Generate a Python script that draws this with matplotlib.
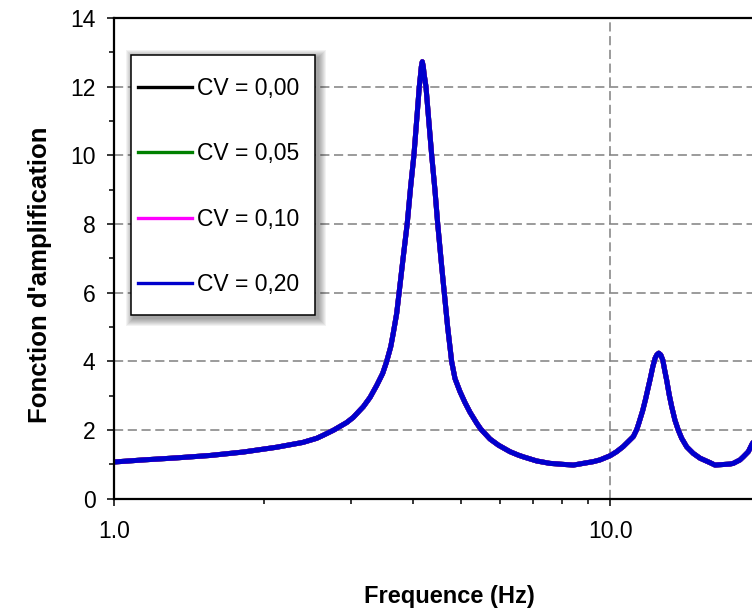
import matplotlib
matplotlib.use("Agg")
import matplotlib.pyplot as plt
import matplotlib.transforms as mtransforms
from matplotlib.lines import Line2D
from matplotlib.patches import Rectangle
from matplotlib.ticker import FixedLocator, FuncFormatter, LogLocator, MultipleLocator, NullFormatter

plt.rcParams['font.family'] = ['Liberation Sans', 'DejaVu Sans']

# values (all four CV curves coincide at this scale)
freq_hz = [1.00, 1.144, 1.336, 1.56, 1.82, 2.125, 2.40, 2.559, 2.639, 2.77,
           2.942, 3.033, 3.129, 3.177, 3.278, 3.381, 3.476, 3.54, 3.609, 3.651,
           3.71, 3.75, 3.825, 3.896, 3.958, 4.019, 4.081, 4.12, 4.147, 4.159,
           4.178, 4.198, 4.211, 4.25, 4.31, 4.364, 4.431, 4.487, 4.572, 4.627,
           4.70, 4.789, 4.863, 4.977, 5.094, 5.213, 5.379, 5.48, 5.72, 5.95,
           6.278, 6.525, 6.677, 7.105, 7.556, 8.04, 8.424, 8.82, 9.242, 9.532,
           9.986, 10.30, 10.62, 11.13, 11.31, 11.40, 11.62, 11.78, 11.93, 12.04,
           12.18, 12.31, 12.41, 12.52, 12.64, 12.76, 12.87, 12.99, 13.15, 13.30,
           13.50, 13.71, 13.93, 14.26, 14.70, 15.17, 15.89, 16.26, 17.43, 17.70,
           18.26, 18.54, 18.98, 19.31, 20.0]
ampl = [1.07, 1.13, 1.19, 1.26, 1.36, 1.50, 1.64, 1.76, 1.85, 2.00,
        2.22, 2.37, 2.58, 2.68, 2.95, 3.30, 3.65, 3.99, 4.43, 4.82,
        5.40, 5.98, 7.05, 8.02, 9.09, 10.01, 11.23, 12.0, 12.39, 12.58,
        12.73, 12.58, 12.39, 12.0, 10.94, 10.01, 8.99, 8.02, 6.76, 6.0,
        5.0, 3.99, 3.50, 3.12, 2.80, 2.52, 2.20, 2.03, 1.74, 1.56,
        1.37, 1.27, 1.22, 1.10, 1.03, 1.00, 0.98, 1.03, 1.08, 1.13,
        1.25, 1.37, 1.52, 1.81, 2.02, 2.17, 2.56, 2.90, 3.25, 3.50,
        3.84, 4.09, 4.19, 4.24, 4.19, 4.04, 3.75, 3.46, 3.02, 2.68,
        2.29, 2.00, 1.76, 1.51, 1.32, 1.18, 1.05, 0.98, 1.01, 1.03,
        1.13, 1.22, 1.37, 1.59, 1.95]

cv_labels = ['CV = 0,00', 'CV = 0,05', 'CV = 0,10', 'CV = 0,20']
cv_colors = ['#000000', '#008000', '#FF00FF', '#0000CC']
cv_curves = [ampl, ampl, ampl, ampl]

x_major = [1, 10, 100]

fig = plt.figure(figsize=(7.52, 6.12), dpi=100)
ax = fig.add_axes([0.152, 0.1851, 0.8581, 0.7853])

for y, c in zip(cv_curves, cv_colors):
    ax.plot(freq_hz, y, color=c, lw=3.6, solid_joinstyle='round', solid_capstyle='round')

ax.set_xscale('log')
ax.set_xlim(1, 20)
ax.set_ylim(0, 14)
ax.xaxis.set_major_locator(FixedLocator(x_major))
ax.xaxis.set_major_formatter(FuncFormatter(lambda v, p: f'{v:.1f}'))
ax.xaxis.set_minor_locator(LogLocator(base=10, subs=range(2, 10)))
ax.xaxis.set_minor_formatter(NullFormatter())
ax.yaxis.set_major_locator(MultipleLocator(2))
ax.yaxis.set_minor_locator(MultipleLocator(1))

ax.tick_params(which='both', direction='out', top=False, right=False, width=1.1, labelsize=16.5)
ax.tick_params(which='major', length=5)
ax.tick_params(which='minor', length=3.6)
ax.tick_params(axis='x', pad=10)
ax.tick_params(axis='y', pad=8.5)

ax.set_axisbelow(True)
ax.grid(True, which='major', color='#808080', lw=1.1, ls=(0, (6, 3)))

ax.spines['right'].set_visible(False)
for s in ['left', 'bottom', 'top']:
    ax.spines[s].set_linewidth(1.6)

ax.set_xlabel('Frequence (Hz)', fontsize=17, fontweight='bold')
ax.set_ylabel("Fonction d'amplification", fontsize=18.5, fontweight='bold')
ax.xaxis.set_label_coords(0.52, -0.1785)
ax.yaxis.set_label_coords(-0.097, 0.4655)

# legend: box drawn separately so the padding can match the reference
box = (0.0259, 0.3822, 0.2851, 0.541)
ax.add_patch(Rectangle(box[:2], box[2], box[3], transform=ax.transAxes,
                       facecolor='white', edgecolor='black', lw=1.1, zorder=4.9))
bb = mtransforms.Bbox.from_bounds(*box).transformed(ax.transAxes)
for r in range(1, 9):
    ax.add_artist(Rectangle((bb.x0 + 3 - r, bb.y0 - 3 - r), bb.width + 2 * r, bb.height + 2 * r,
                            transform=mtransforms.IdentityTransform(), facecolor='black',
                            alpha=0.05, lw=0, zorder=4.8))

handles = [Line2D([], [], color=c, lw=2.4) for c in cv_colors]
leg = ax.legend(handles, cv_labels, loc='upper left', bbox_to_anchor=(0.0367, 0.878),
                borderaxespad=0, borderpad=0, handlelength=2.36, handletextpad=0.22,
                labelspacing=1.85, fontsize=16.5, frameon=False)
leg.set_zorder(5)

plt.savefig('out.png', dpi=100)
